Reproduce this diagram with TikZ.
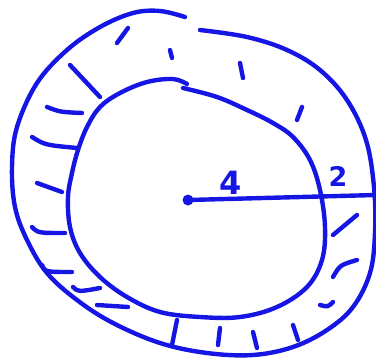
\documentclass[tikz,border=0pt]{standalone}
\usepackage{fontspec}
\setmainfont{DejaVu Sans}
\definecolor{pen}{RGB}{22,22,228}
\begin{document}
\begin{tikzpicture}[x=1pt,y=-1pt,
  ink/.style={draw=pen,line width=4.4pt,line cap=round,line join=round},
  hatch/.style={ink},
  lbl/.style={text=pen,inner sep=0pt,font=\bfseries\fontsize{32}{32}\selectfont}]
\useasboundingbox (0,0) rectangle (376,360);
% outer boundary
\draw[ink] plot[smooth,tension=0.6] coordinates {(185,17) (160,11) (133,13) (100,27) (67,50) (37,83) (17,127) (12,167) (15,207) (27,240) (47,273) (77,300) (113,323) (160,343) (207,353) (253,355) (293,347) (327,330) (353,307) (370,273) (375,233) (374,187) (366,140) (347,100) (320,70) (287,50) (247,37) (200,30)};
% inner boundary
\draw[ink] plot[smooth,tension=0.6] coordinates {(187,84) (173,79) (147,82) (120,93) (100,107) (87,127) (78,150) (72,173) (68,197) (70,227) (80,253) (100,277) (127,297) (160,312) (200,317) (240,317) (277,307) (307,287) (322,260) (325,227) (320,190) (310,160) (293,137) (273,123) (247,110) (217,97) (183,88)};
% hatches
\draw[hatch] (117,43) -- (128,28);
\draw[hatch] (170,50) -- (172,58);
\draw[hatch] (240,63) -- (243,78);
\draw[hatch] (302,107) -- (297,120);
\draw[hatch] (70,65) -- (100,97);
\draw[hatch] (47,107) .. controls (60,112) .. (82,113);
\draw[hatch] (32,137) .. controls (45,145) .. (77,148);
\draw[hatch] (37,183) -- (62,192);
\draw[hatch] (32,227) .. controls (38,233) .. (65,233);
\draw[hatch] (42,265) .. controls (45,272) .. (72,272);
\draw[hatch] (73,287) .. controls (78,292) .. (100,288);
\draw[hatch] (97,305) -- (128,307);
\draw[hatch] (177,320) -- (172,345);
\draw[hatch] (220,328) -- (218,345);
\draw[hatch] (253,332) -- (257,348);
\draw[hatch] (293,325) -- (298,340);
\draw[hatch] (357,215) -- (333,235);
\draw[hatch] (357,260) .. controls (340,265) .. (333,277);
\draw[hatch] (333,302) .. controls (328,307) .. (320,305);
% center and radius
\coordinate (c) at (188,200);
\coordinate (e) at (376,195);
\fill[pen] (c) circle (5.5);
\draw[ink] (c) -- (e);
\node[lbl,anchor=base] (four) at (231,194) {4};
\node[lbl,anchor=base,font=\bfseries\fontsize{27}{27}\selectfont] (two) at (338,186) {2};
\end{tikzpicture}
\end{document}
